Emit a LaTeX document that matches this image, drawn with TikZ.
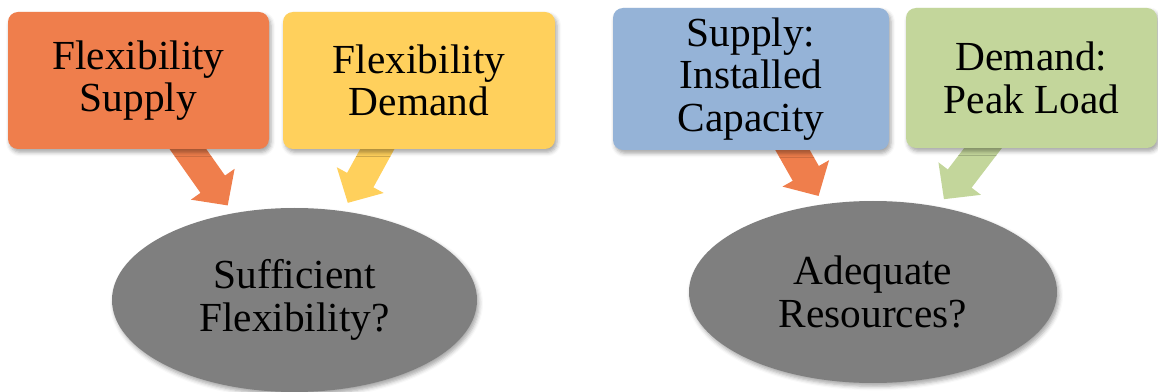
\documentclass[tikz,border=0pt]{standalone}
\usepackage{fontspec}
\setmainfont{Liberation Serif}
\usepackage{xcolor}
\usepackage{tikz}
\usetikzlibrary{arrows.meta,positioning,calc,shapes.geometric,shadows.blur,backgrounds}
\definecolor{FxOrange}{HTML}{EF7E4C}
\definecolor{FxGold}{HTML}{FFD05C}
\definecolor{CapBlue}{HTML}{95B3D7}
\definecolor{LoadGreen}{HTML}{C3D69B}
\definecolor{AskGrey}{HTML}{7F7F7F}
\colorlet{FxSupply}{FxOrange}
\colorlet{FxDemand}{FxGold}

\tikzset{
  softshadow/.style={blur shadow={shadow xshift=1.5pt, shadow yshift=-2.5pt,
      shadow blur radius=3pt, shadow opacity=35}},
  card/.style={rounded corners=7.5pt, inner sep=0pt, align=center, softshadow,
      font=\fontsize{31}{32}\selectfont},
  question/.style={ellipse, fill=AskGrey, inner sep=0pt, align=center, softshadow,
      font=\fontsize{31}{32}\selectfont},
  fatarrow/.style={line width=22.5pt, shorten >=7pt,
      -{Triangle[width=39pt,length=19.5pt]}},
}

\begin{document}
\begin{tikzpicture}[x=0.75pt,y=-0.75pt]
  \useasboundingbox (0,0) rectangle (1158,392);

  % flexibility side
  \node[card, fill=FxSupply, minimum width=195.75pt, minimum height=102.75pt]
    (flexsup) at (138.5,80.5) {Flexibility\\Supply};
  \node[card, fill=FxDemand, minimum width=204pt, minimum height=102.75pt]
    (flexdem) at (419,80.5) {Flexibility\\Demand};
  \node[question, minimum width=273.75pt, minimum height=138pt]
    (suffflex) at (294.5,300) {Sufficient\\Flexibility?};

  % adequacy side
  \node[card, fill=CapBlue, minimum width=207pt, minimum height=106.5pt]
    (capsup) at (751,79) {Supply:\\Installed\\Capacity};
  \node[card, fill=LoadGreen, minimum width=188.25pt, minimum height=105pt]
    (peakdem) at (1031.5,78) {Demand:\\Peak Load};
  \node[question, minimum width=276pt, minimum height=136.5pt]
    (adequ) at (873,292) {Adequate\\Resources?};

  \coordinate (flexsup-out) at (178,135);
  \coordinate (flexdem-out) at (385,135);
  \coordinate (capsup-out) at (784,135);
  \coordinate (peakdem-out) at (993,135);

  \begin{scope}[on background layer]
    \draw[fatarrow, FxSupply] (flexsup-out) -- (suffflex);
    \draw[fatarrow, FxDemand] (flexdem-out) -- (suffflex);
    \draw[fatarrow, FxOrange] (capsup-out) -- (adequ);
    \draw[fatarrow, LoadGreen] (peakdem-out) -- (adequ);
  \end{scope}
\end{tikzpicture}
\end{document}
